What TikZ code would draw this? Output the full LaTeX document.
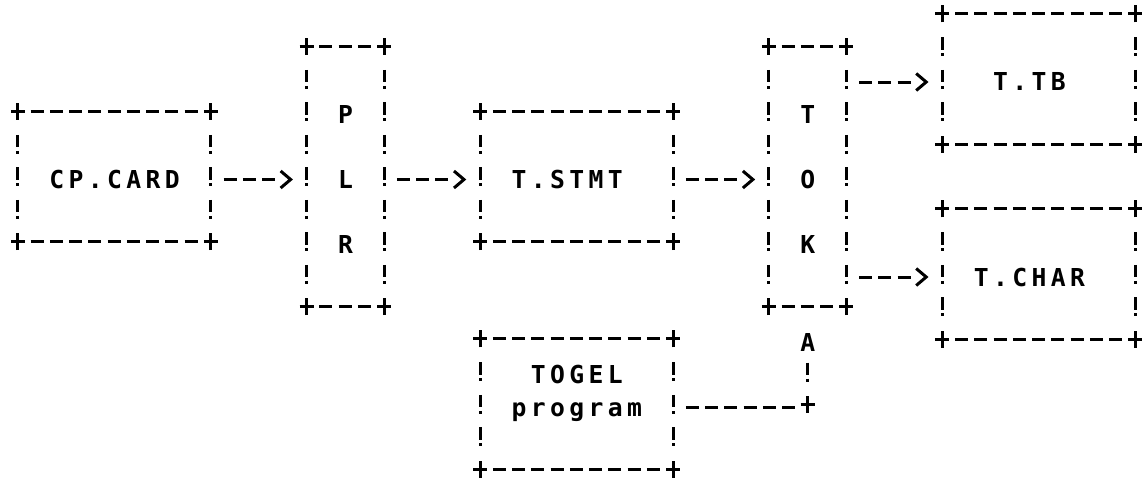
\documentclass[tikz,border=0pt]{standalone}
\usepackage{fontspec}
\usetikzlibrary{arrows.meta}
\newfontfamily\asciifont{DejaVu Sans Mono}[LetterSpace=17.77]
\begin{document}
\begin{tikzpicture}[x=19.26pt, y=-32.5pt,
  box/.style 2 args={rectangle, inner sep=0pt, draw=none, minimum width=#1*19.26pt, minimum height=#2*32.5pt},
  lbl/.style={anchor=base west, inner sep=0pt, xshift=-7.43pt, yshift=-9pt, font=\asciifont\bfseries\fontsize{24.7pt}{24.7pt}\selectfont},
  hedge/.style={line width=3pt, dash pattern=on 13pt off 6.26pt, shorten <=12.76pt, shorten >=12.76pt},
  vedge/.style={line width=3pt, dash pattern=on 12.5pt off 3.5pt on 3pt off 13.5pt, shorten <=20.5pt, shorten >=25.5pt},
  conn/.style={line width=3pt, dash pattern=on 13pt off 6.26pt on 13pt off 6.26pt on 13pt off 300pt, shorten <=12.76pt, shorten >=13.76pt, -{Straight Barb[length=10pt,width=17pt]}},
  plusmk/.pic={\draw[line width=3pt] (-7pt,3pt) -- (7pt,3pt) (0pt,-5.5pt) -- (0pt,11.5pt);}
]
\useasboundingbox (-0.93458,-0.52308) rectangle (58.4631,14.2154);

% boxes
\node[box={10}{4}] (card)  at (5,5)  {};
\node[box={4}{8}]  (plr)   at (17,5) {};
\node[box={10}{4}] (stmt)  at (29,5) {};
\node[box={4}{8}]  (tok)   at (41,5) {};
\node[box={10}{4}] (tb)    at (53,2) {};
\node[box={10}{4}] (char)  at (53,8) {};
\node[box={10}{4}] (togel) at (29,12) {};

\foreach \n in {card,plr,stmt,tok,tb,char,togel}{
  \draw[hedge] ([yshift=3pt]\n.north west) -- ([yshift=3pt]\n.north east);
  \draw[hedge] ([yshift=3pt]\n.south west) -- ([yshift=3pt]\n.south east);
  \draw[vedge] (\n.north west) -- (\n.south west);
  \draw[vedge] (\n.north east) -- (\n.south east);
  \pic at (\n.north west) {plusmk};
  \pic at (\n.north east) {plusmk};
  \pic at (\n.south west) {plusmk};
  \pic at (\n.south east) {plusmk};
}

% labels
\node[lbl] (cardlbl) at (2,5) {CP.CARD};
\node[lbl] (plrP) at (17,3) {P};
\node[lbl] (plrL) at (17,5) {L};
\node[lbl] (plrR) at (17,7) {R};
\node[lbl] (stmtlbl) at (26,5) {T.STMT};
\node[lbl] (tokT) at (41,3) {T};
\node[lbl] (tokO) at (41,5) {O};
\node[lbl] (tokK) at (41,7) {K};
\node[lbl] (tblbl) at (51,2) {T.TB};
\node[lbl] (charlbl) at (50,8) {T.CHAR};
\node[lbl] (togel1) at (27,11) {TOGEL};
\node[lbl] (togel2) at (26,12) {program};
\node[lbl] (arrA) at (41,10) {A};

% connectors
\draw[conn] (card.east) -- (plr.west);
\draw[conn] (plr.east) -- (stmt.west);
\draw[conn] (stmt.east) -- (tok.west);
\draw[conn] (tok.east |- tb.west) -- (tb.west);
\draw[conn] (tok.east |- char.west) -- (char.west);

\coordinate (tcorner) at (tok.south |- togel.east);
\coordinate (atop) at (41,10);
\draw[hedge] (togel.east) -- (tcorner);
\draw[vedge] (atop) -- (tcorner);
\pic at (tcorner) {plusmk};
\end{tikzpicture}
\end{document}
